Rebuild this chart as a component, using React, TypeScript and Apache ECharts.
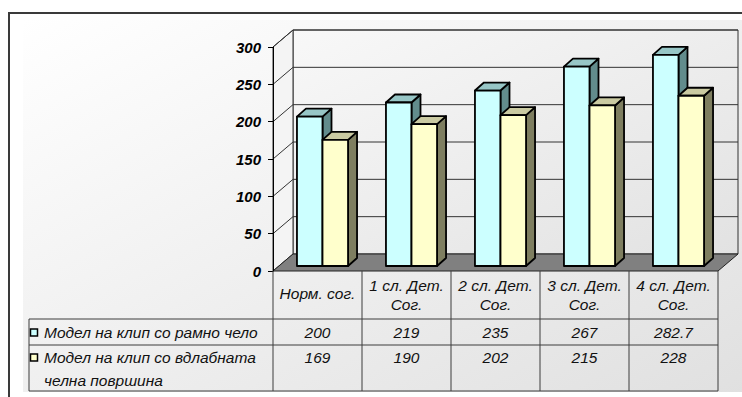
import React, { useEffect, useRef } from 'react';
import * as echarts from 'echarts';

// Categories of the comparison (two-line labels as they appear in the data table)
const categories = [
  'Норм. сог.',
  '1 сл. Дет.\nСог.',
  '2 сл. Дет.\nСог.',
  '3 сл. Дет.\nСог.',
  '4 сл. Дет.\nСог.',
];

const seriesNames = [
  'Модел на клип со рамно чело',
  'Модел на клип со вдлабната\nчелна површина',
];

// Values per model
const flatFrontValues = [200, 219, 235, 267, 282.7];
const concaveFrontValues = [169, 190, 202, 215, 228];

// Value axis
const yMin = 0;
const yMax = 300;
const yInterval = 50;

// Plot layout (front plane of the 3D box)
const GRID_LEFT = 273;
const GRID_TOP = 47;
const GRID_WIDTH = 445;
const GRID_HEIGHT = 224;

// Depth of the walls and of the bars
const WALL_DX = 20;
const WALL_DY = -17;
const BAR_FX = 5;
const BAR_FY = -5;
const BAR_DX = 9;
const BAR_DY = -8;

const FONT = "'Liberation Sans', Arial, sans-serif";

const palettes = [
  { front: '#CCFFFF', top: '#97C6C6', side: '#628C8C', marker: '#CCFFFF' },
  { front: '#FFFFCC', top: '#CACAA2', side: '#7E7E60', marker: '#FFFFCC' },
];

function wallsRenderItem(params: any, api: any) {
  const cs = params.coordSys;
  const x0 = cs.x;
  const x1 = cs.x + cs.width;
  const yTop = cs.y;
  const yBot = cs.y + cs.height;
  const wallFill = new echarts.graphic.LinearGradient(0, 0, 1, 1, [
    { offset: 0, color: '#f8f8f8' },
    { offset: 1, color: '#e2e2e2' },
  ]);
  const children: any[] = [
    {
      type: 'polygon',
      shape: {
        points: [
          [x0 + WALL_DX, yTop + WALL_DY],
          [x1 + WALL_DX, yTop + WALL_DY],
          [x1 + WALL_DX, yBot + WALL_DY],
          [x0 + WALL_DX, yBot + WALL_DY],
        ],
      },
      style: { fill: wallFill, stroke: '#333', lineWidth: 1 },
    },
    {
      type: 'polygon',
      shape: {
        points: [
          [x0, yTop],
          [x0 + WALL_DX, yTop + WALL_DY],
          [x0 + WALL_DX, yBot + WALL_DY],
          [x0, yBot],
        ],
      },
      style: { fill: '#f4f4f4', stroke: '#333', lineWidth: 1 },
    },
    {
      type: 'polygon',
      shape: {
        points: [
          [x0, yBot],
          [x1, yBot],
          [x1 + WALL_DX, yBot + WALL_DY],
          [x0 + WALL_DX, yBot + WALL_DY],
        ],
      },
      style: { fill: '#808080', stroke: '#222', lineWidth: 1 },
    },
  ];
  for (let v = yMin + yInterval; v <= yMax; v += yInterval) {
    const y = api.coord([0, v])[1];
    children.push({
      type: 'polyline',
      shape: {
        points: [
          [x0, y],
          [x0 + WALL_DX, y + WALL_DY],
          [x1 + WALL_DX, y + WALL_DY],
        ],
      },
      style: { fill: null, stroke: '#333', lineWidth: 1 },
    });
  }
  return { type: 'group', children };
}

function makeBarRenderer(seriesIndex: number) {
  const pal = palettes[seriesIndex];
  return (params: any, api: any) => {
    const cat = api.value(0);
    const val = api.value(1);
    const [cx, yv] = api.coord([cat, val]);
    const y0 = api.coord([cat, 0])[1];
    const band = api.size([1, 0])[0];
    const bw = band * 0.287;
    const left = seriesIndex === 0 ? cx + BAR_FX - bw : cx + BAR_FX;
    const right = left + bw;
    const top = yv + BAR_FY;
    const bottom = y0 + BAR_FY;
    const stroke = { stroke: '#000', lineWidth: 1.8, lineJoin: 'round' };
    return {
      type: 'group',
      children: [
        {
          type: 'polygon',
          shape: {
            points: [
              [right, top],
              [right + BAR_DX, top + BAR_DY],
              [right + BAR_DX, bottom + BAR_DY],
              [right, bottom],
            ],
          },
          style: { fill: pal.side, ...stroke },
        },
        {
          type: 'polygon',
          shape: {
            points: [
              [left, top],
              [left + BAR_DX, top + BAR_DY],
              [right + BAR_DX, top + BAR_DY],
              [right, top],
            ],
          },
          style: { fill: pal.top, ...stroke },
        },
        {
          type: 'rect',
          shape: { x: left, y: top, width: bw, height: bottom - top },
          style: { fill: pal.front, ...stroke },
        },
      ],
    };
  };
}

function buildTable(): any[] {
  const colW = GRID_WIDTH / categories.length;
  const headTop = GRID_TOP + GRID_HEIGHT; // 271
  const row1Top = headTop + 48;
  const row2Top = row1Top + 26;
  const tableBottom = row2Top + 46;
  const legendLeft = 29;
  const right = GRID_LEFT + GRID_WIDTH;
  const lineStyle = { stroke: '#3c3c3c', lineWidth: 1 };
  const els: any[] = [];

  // horizontal rules
  [row1Top, row2Top, tableBottom].forEach((y) => {
    els.push({ type: 'line', z: 20, shape: { x1: legendLeft, y1: y, x2: right, y2: y }, style: lineStyle });
  });
  // vertical rules
  els.push({ type: 'line', z: 20, shape: { x1: legendLeft, y1: row1Top, x2: legendLeft, y2: tableBottom }, style: lineStyle });
  for (let i = 0; i <= categories.length; i++) {
    const x = GRID_LEFT + colW * i;
    els.push({ type: 'line', z: 20, shape: { x1: x, y1: headTop, x2: x, y2: tableBottom }, style: lineStyle });
  }

  const textStyle = { fontFamily: FONT, fontStyle: 'italic', fontSize: 15.5, fill: '#111', align: 'center', verticalAlign: 'middle', lineHeight: 19 };

  categories.forEach((c, i) => {
    const cx = GRID_LEFT + colW * (i + 0.5);
    const twoLine = c.indexOf('\n') >= 0;
    els.push({ type: 'text', z: 20, x: cx, y: twoLine ? headTop + 24 : headTop + 22, style: { ...textStyle, text: c } });
    els.push({ type: 'text', z: 20, x: cx, y: row1Top + 13, style: { ...textStyle, text: String(flatFrontValues[i]) } });
    els.push({ type: 'text', z: 20, x: cx, y: row2Top + 12, style: { ...textStyle, text: String(concaveFrontValues[i]) } });
  });

  // legend keys and series names
  els.push({ type: 'rect', z: 20, shape: { x: 30.5, y: row1Top + 10, width: 7, height: 7 }, style: { fill: palettes[0].marker, stroke: '#000', lineWidth: 1.5 } });
  els.push({ type: 'rect', z: 20, shape: { x: 30.5, y: row2Top + 9, width: 7, height: 7 }, style: { fill: palettes[1].marker, stroke: '#000', lineWidth: 1.5 } });
  els.push({ type: 'text', z: 20, x: 44, y: row1Top + 13, style: { ...textStyle, align: 'left', text: seriesNames[0] } });
  els.push({ type: 'text', z: 20, x: 44, y: row2Top + 1, style: { ...textStyle, align: 'left', verticalAlign: 'top', lineHeight: 23, text: seriesNames[1] } });
  return els;
}

export default function App() {
  const ref = useRef<HTMLDivElement>(null);

  useEffect(() => {
    if (!ref.current) return;
    const chart = echarts.init(ref.current, null, { renderer: 'svg' });
    chart.setOption({
      animation: false,
      backgroundColor: '#ffffff',
      grid: { left: GRID_LEFT, top: GRID_TOP, width: GRID_WIDTH, height: GRID_HEIGHT, containLabel: false },
      xAxis: {
        type: 'category',
        data: categories,
        boundaryGap: true,
        axisLine: { show: false },
        axisTick: { show: false },
        axisLabel: { show: false },
        splitLine: { show: false },
      },
      yAxis: {
        type: 'value',
        min: yMin,
        max: yMax,
        interval: yInterval,
        z: 5,
        axisLine: { show: true, lineStyle: { color: '#000', width: 1 } },
        axisTick: { show: true, length: 5, inside: false, lineStyle: { color: '#000' } },
        splitLine: { show: false },
        axisLabel: {
          margin: 12,
          color: '#000',
          fontFamily: FONT,
          fontStyle: 'italic',
          fontWeight: 'bold',
          fontSize: 15,
        },
      },
      graphic: [
        {
          type: 'rect',
          z: -10,
          silent: true,
          shape: { x: 23, y: 20, width: 730, height: 372 },
          style: {
            fill: new echarts.graphic.LinearGradient(0, 0, 1, 1, [
              { offset: 0, color: '#ffffff' },
              { offset: 1, color: '#e0e0e0' },
            ]),
          },
        },
        {
          type: 'rect',
          z: 30,
          silent: true,
          shape: { x: 9, y: 13, width: 1000, height: 1000 },
          style: { fill: null, stroke: '#3a3a3a', lineWidth: 2 },
        },
        ...buildTable(),
      ],
      series: [
        {
          type: 'custom',
          name: 'walls',
          silent: true,
          z: 1,
          data: [[0, 0]],
          renderItem: wallsRenderItem,
        },
        {
          type: 'custom',
          name: seriesNames[0],
          z: 3,
          data: flatFrontValues.map((v, i) => [i, v]),
          encode: { x: 0, y: 1 },
          renderItem: makeBarRenderer(0),
        },
        {
          type: 'custom',
          name: seriesNames[1],
          z: 4,
          data: concaveFrontValues.map((v, i) => [i, v]),
          encode: { x: 0, y: 1 },
          renderItem: makeBarRenderer(1),
        },
      ],
    });
    return () => chart.dispose();
  }, []);

  return <div ref={ref} style={{ position: 'fixed', left: 0, top: 0, width: 742, height: 397 }} />;
}
